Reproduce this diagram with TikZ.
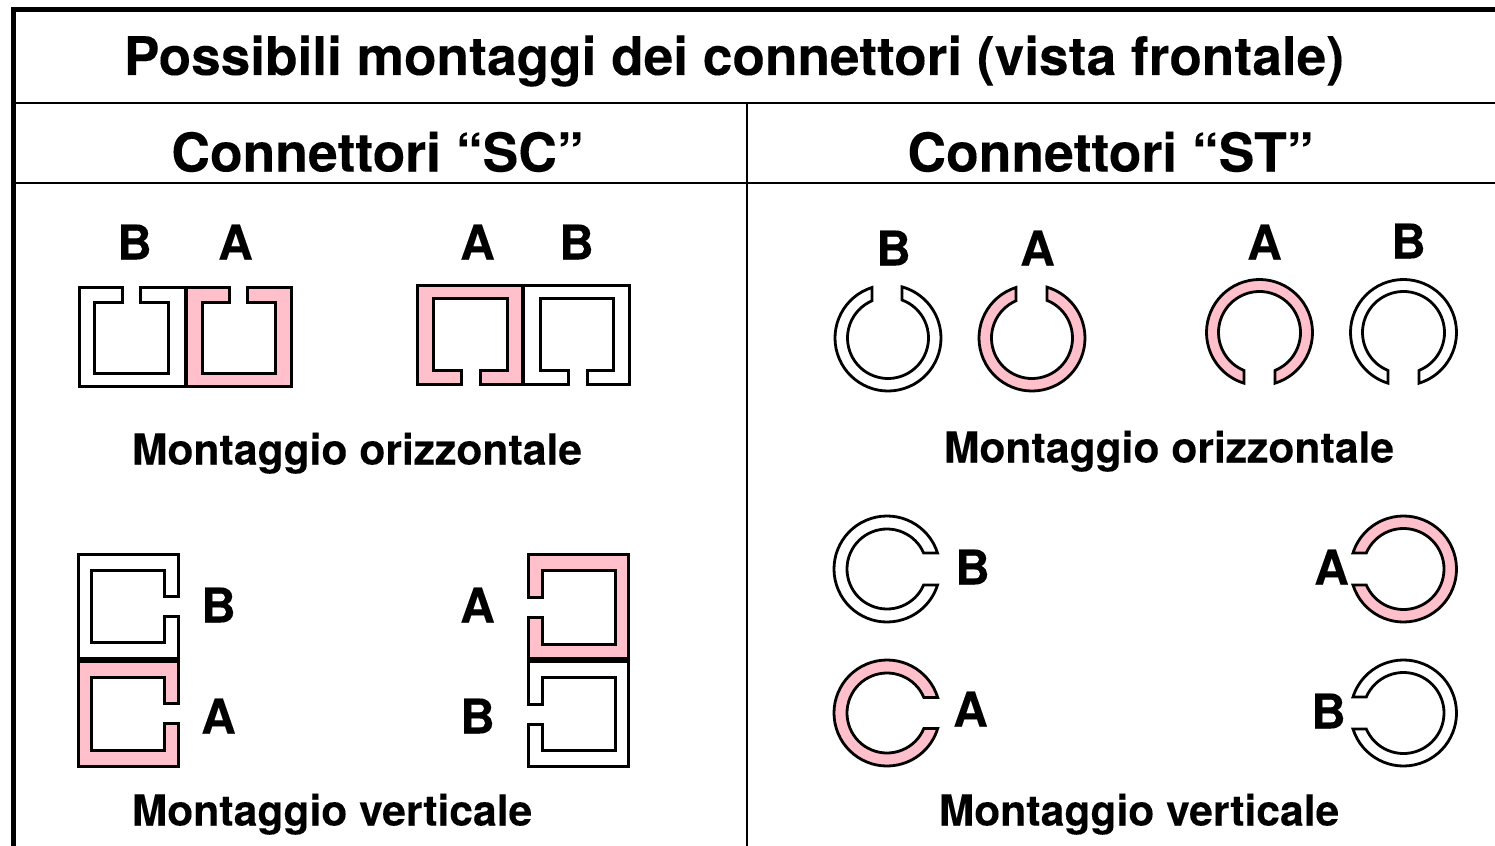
\documentclass[tikz,border=0pt]{standalone}
\usepackage{fontspec}
\setmainfont[BoldFeatures={FakeBold=0.12}]{TeX Gyre Heros}
\definecolor{rosa}{HTML}{FFC0CB}
\tikzset{
  part/.style={draw=black,line width=1.5pt,line join=miter,miter limit=2},
  ringpart/.style={draw=black,line width=1.4pt,line join=miter,miter limit=2},
  rule/.style={draw=black,line width=1.3pt},
  frame/.style={draw=black,line width=2.5pt},
  titolo/.style={font=\fontsize{26.6}{30}\selectfont\bfseries,anchor=base,inner sep=0pt},
  testata/.style={font=\fontsize{26.75}{30}\selectfont\bfseries,anchor=base,inner sep=0pt,xshift=0.25pt,yshift=-0.25pt},
  didascalia/.style={font=\fontsize{21.3}{26}\selectfont\bfseries,anchor=base,inner sep=0pt,yshift=0.25pt},
  lettera/.style={font=\fontsize{24}{28}\selectfont\bfseries,anchor=base,inner sep=0pt,xshift=0.25pt,yshift=-0.25pt},
}
% outer x0 x1, outer y0 (gap side) y1, inner ix0 ix1, iy0 (gap side) iy1, gap g0 g1, fill
\newcommand{\sqH}[9]{\def\fc{#9}\def\xa{#1}\def\xb{#2}\def\ya{#3}\def\yb{#4}\def\ia{#5}\def\ib{#6}\def\ja{#7}\def\jb{#8}\sqHd}
\newcommand{\sqHd}[2]{\path[part,fill=\fc] (#1,\ya) -- (\xa,\ya) -- (\xa,\yb) -- (\xb,\yb) -- (\xb,\ya) -- (#2,\ya) -- (#2,\ja) -- (\ib,\ja) -- (\ib,\jb) -- (\ia,\jb) -- (\ia,\ja) -- (#1,\ja) -- cycle;}
\newcommand{\sqV}[9]{\def\fc{#9}\def\xa{#1}\def\xb{#2}\def\ya{#3}\def\yb{#4}\def\ia{#5}\def\ib{#6}\def\ja{#7}\def\jb{#8}\sqVd}
\newcommand{\sqVd}[2]{\path[part,fill=\fc] (\xa,#1) -- (\xa,\ya) -- (\xb,\ya) -- (\xb,\yb) -- (\xa,\yb) -- (\xa,#2) -- (\ia,#2) -- (\ia,\jb) -- (\ib,\jb) -- (\ib,\ja) -- (\ia,\ja) -- (\ia,#1) -- cycle;}
% ring: cx cy R r rotation g1 g2 fill  (gap between local y g1<g2, along local +x)
\newcommand{\anello}[8]{%
  \begin{scope}[shift={(#1,#2)}]
  \begin{scope}[x=0.5pt,y=0.5pt,rotate=#5]
    \pgfmathsetmacro{\aT}{asin(#7/#3)}
    \pgfmathsetmacro{\aB}{360+asin(#6/#3)}
    \pgfmathsetmacro{\iT}{asin(#7/#4)}
    \pgfmathsetmacro{\iB}{360+asin(#6/#4)}
    \path[ringpart,fill=#8] (\aT:#3) arc[start angle=\aT,end angle=\aB,radius=#3]
      -- (\iB:#4) arc[start angle=\iB,end angle=\iT,radius=#4] -- cycle;
  \end{scope}
  \end{scope}}
\begin{document}
\begin{tikzpicture}[x=0.5pt,y=-0.5pt]
\useasboundingbox (0,0) rectangle (1495,846);
\fill[white] (0,0) rectangle (1495,846);
% frame and table rules
\coordinate (tl) at (13.5,9.5);
\coordinate (tr) at (1495,9.5);
\coordinate (bl) at (13.5,846);
\coordinate (h1l) at (13.5,103);
\coordinate (h1r) at (1495,103);
\coordinate (h2l) at (13.5,183);
\coordinate (h2r) at (1495,183);
\coordinate (vt) at (747,103);
\coordinate (vb) at (747,846);
\draw[rule] (h1l) -- (h1r);
\draw[rule] (h2l) -- (h2r);
\draw[rule] (vt) -- (vb);
\draw[frame] (bl) -- (tl) -- (tr);
% headings
\node[titolo] (tit) at (734,75) {Possibili montaggi dei connettori (vista frontale)};
\node[testata] (hsc) at (377,171) {Connettori “SC”};
\node[testata] (hst) at (1110,171) {Connettori “ST”};
% SC horizontal
\sqH{79}{185}{287}{386}{94}{168}{302}{373}{white}{122}{140}
\sqH{186}{291}{287}{386}{202}{275}{302}{373}{rosa}{229}{247}
\sqH{417}{522}{384}{285}{433}{507}{370}{298}{rosa}{461}{480}
\sqH{523}{629}{384}{285}{540}{613}{370}{298}{white}{568}{587}
% SC vertical
\sqV{178}{78}{554}{658}{164}{91}{570}{642}{white}{596}{616}
\sqV{178}{78}{661}{766}{164}{91}{677}{750}{rosa}{703}{723}
\sqV{528}{628}{554}{658}{542}{615}{570}{644}{rosa}{597}{617}
\sqV{528}{628}{661}{766}{542}{615}{677}{750}{white}{704}{724}
% ST horizontal
\anello{888}{338}{53}{40.5}{90}{-14}{16}{white}
\anello{1032}{338}{53}{40.5}{90}{-15}{16}{rosa}
\anello{1259.5}{332.5}{53}{41}{-90}{-15.5}{15.5}{rosa}
\anello{1403.5}{332.5}{53}{41}{-90}{-15.5}{15.5}{white}
% ST vertical
\anello{887}{569}{53}{40}{0}{-16}{16}{white}
\anello{887}{713}{53}{40}{0}{-15.5}{15.5}{rosa}
\anello{1403.5}{569}{53}{40.5}{180}{-16}{16}{rosa}
\anello{1403.5}{713}{53}{40.5}{180}{-16}{16}{white}
% letters
\node[lettera] (l1) at (134,259) {B};
\node[lettera] (l2) at (235,259) {A};
\node[lettera] (l3) at (477,259) {A};
\node[lettera] (l4) at (576,259) {B};
\node[lettera] (l5) at (893,265) {B};
\node[lettera] (l6) at (1037,265) {A};
\node[lettera] (l7) at (1264,259) {A};
\node[lettera] (l8) at (1408,258) {B};
\node[lettera] (l9) at (218,622) {B};
\node[lettera] (l10) at (218,733) {A};
\node[lettera] (l11) at (477,622) {A};
\node[lettera] (l12) at (477,733) {B};
\node[lettera] (l13) at (972,584) {B};
\node[lettera] (l14) at (1331,584) {A};
\node[lettera] (l15) at (970,726) {A};
\node[lettera] (l16) at (1328,728) {B};
% captions
\node[didascalia] (c1) at (357,465) {Montaggio orizzontale};
\node[didascalia] (c2) at (1169,463) {Montaggio orizzontale};
\node[didascalia] (c3) at (332,826) {Montaggio verticale};
\node[didascalia] (c4) at (1139,826) {Montaggio verticale};
\end{tikzpicture}
\end{document}
